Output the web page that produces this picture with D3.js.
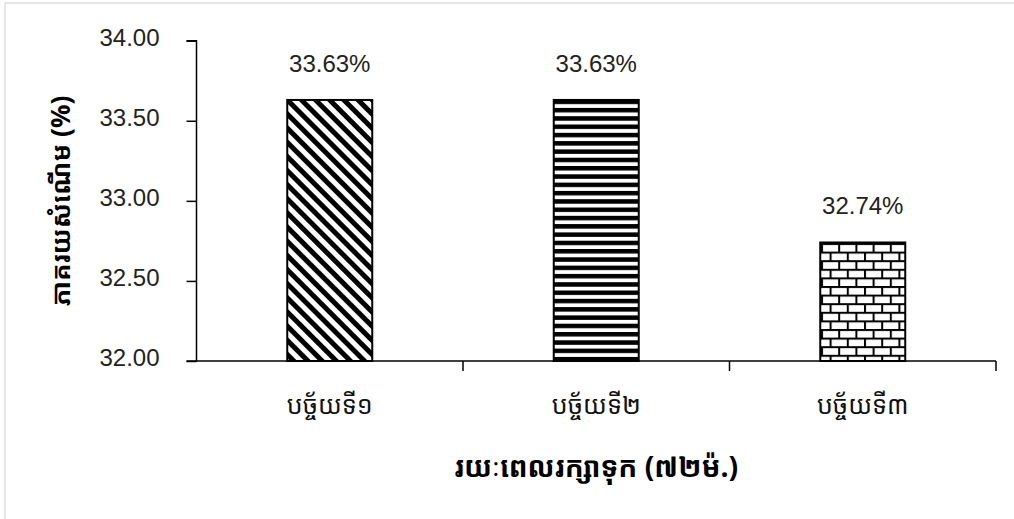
<!DOCTYPE html>
<html><head><meta charset="utf-8">
<script src="https://cdn.jsdelivr.net/npm/d3@7"></script>
<style>
html,body{margin:0;padding:0;background:#fff;}
svg{display:block;}
</style></head>
<body>
<svg id="chart" width="1014" height="519"></svg>
<script>
const categories = ["បច្ច័យទី១", "បច្ច័យទី២", "បច្ច័យទី៣"];
const values = [33.63, 33.63, 32.74];
const valueLabels = ["33.63%", "33.63%", "32.74%"];
const yTicks = [32.00, 32.50, 33.00, 33.50, 34.00];
const yTitle = "ភាគរយសំណើម (%)";
const xTitle = "រយៈពេលរក្សាទុក (៧២ម៉.)";
const patterns = ["diag", "horiz", "brick"];

const svg = d3.select("#chart");
const fontLatin = "Liberation Sans, Arial, sans-serif";
const fontKhmer = "'Noto Sans Khmer','Khmer OS','Noto Sans', sans-serif";

// outer border
svg.append("rect").attr("x",5).attr("y",3).attr("width",1200).attr("height",700)
  .attr("fill","#fff").attr("stroke","#d9d9d9").attr("stroke-width",1.3);

const defs = svg.append("defs");
// diagonal "\" stripes
const pd = defs.append("pattern").attr("id","diag").attr("patternUnits","userSpaceOnUse")
  .attr("width",10).attr("height",10).attr("patternTransform","rotate(-45)");
pd.append("rect").attr("width",10).attr("height",10).attr("fill","#fff");
pd.append("rect").attr("x",0).attr("width",5).attr("height",10).attr("fill","#000");
// horizontal stripes
const ph = defs.append("pattern").attr("id","horiz").attr("patternUnits","userSpaceOnUse")
  .attr("width",10).attr("height",8.3).attr("y",0);
ph.append("rect").attr("width",10).attr("height",8.3).attr("fill","#fff");
ph.append("rect").attr("y",0).attr("width",10).attr("height",4.5).attr("fill","#000");
// brick
const bw = 17.2, bh = 8.6;
const pb = defs.append("pattern").attr("id","brick").attr("patternUnits","userSpaceOnUse")
  .attr("width",bw).attr("height",bh*2).attr("x",821).attr("y",243);
pb.append("rect").attr("width",bw).attr("height",bh*2).attr("fill","#fff");
pb.append("rect").attr("y",0).attr("width",bw).attr("height",2).attr("fill","#000");
pb.append("rect").attr("y",bh).attr("width",bw).attr("height",2).attr("fill","#000");
pb.append("rect").attr("x",0).attr("y",0).attr("width",2).attr("height",bh).attr("fill","#000");
pb.append("rect").attr("x",bw/2).attr("y",bh).attr("width",2).attr("height",bh).attr("fill","#000");

const x0 = 196.5, x1 = 996, yTop = 40.7, yBot = 361;
const y = d3.scaleLinear().domain([32, 34]).range([yBot, yTop]);
const band = d3.scaleBand().domain(categories).range([x0, x1]);

// bars
svg.selectAll("rect.bar").data(values).enter().append("rect")
  .attr("class","bar")
  .attr("x",(d,i)=>band(categories[i]) + band.bandwidth()/2 - 42.5)
  .attr("width",85)
  .attr("y",d=>y(d))
  .attr("height",d=>yBot - y(d))
  .attr("fill",(d,i)=>"url(#"+patterns[i]+")")
  .attr("stroke","#000").attr("stroke-width",2);

// value labels
svg.selectAll("text.val").data(values).enter().append("text")
  .attr("x",(d,i)=>band(categories[i]) + band.bandwidth()/2)
  .attr("y",d=>y(d) - 28)
  .attr("text-anchor","middle")
  .attr("font-family",fontLatin).attr("font-size",24).attr("fill","#222")
  .text((d,i)=>valueLabels[i]);

// y axis
const yAxis = d3.axisLeft(y).tickValues(yTicks).tickFormat(d3.format(".2f")).tickSize(10).tickPadding(27);
const gy = svg.append("g").attr("transform",`translate(${x0},0)`).call(yAxis);
gy.select(".domain").attr("stroke","#000").attr("stroke-width",1.5).attr("d",`M-10,${yTop}H0V${yBot}H-10`);
gy.selectAll(".tick line").attr("stroke","#000").attr("stroke-width",1.5);
gy.selectAll(".tick text").attr("font-family",fontLatin).attr("font-size",24).attr("fill","#222").attr("dy","0.2em");

// x axis
const xAxis = d3.axisBottom(band).tickSize(0).tickPadding(35).tickFormat(d=>d);
const gx = svg.append("g").attr("transform",`translate(0,${yBot})`).call(xAxis);
gx.select(".domain").attr("stroke","#000").attr("stroke-width",1.5).attr("d",`M${x0},0H${x1}`);
gx.selectAll(".tick text").attr("font-family",fontKhmer).attr("font-size",25).attr("fill","#111");
// boundary ticks
const bounds = categories.map(c=>band(c)+band.bandwidth());
gx.selectAll("line.bt").data(bounds).enter().append("line")
  .attr("x1",d=>d).attr("x2",d=>d).attr("y1",0).attr("y2",10)
  .attr("stroke","#000").attr("stroke-width",1.5);

// titles
svg.append("text").attr("x",(x0+x1)/2).attr("y",477).attr("text-anchor","middle")
  .attr("font-family",fontKhmer).attr("font-weight","bold").attr("font-size",28).attr("fill","#000")
  .text(xTitle);
svg.append("text").attr("transform",`translate(70,${(yTop+yBot)/2}) rotate(-90)`).attr("text-anchor","middle")
  .attr("font-family",fontKhmer).attr("font-weight","bold").attr("font-size",26).attr("fill","#000")
  .text(yTitle);
</script>
</body></html>
